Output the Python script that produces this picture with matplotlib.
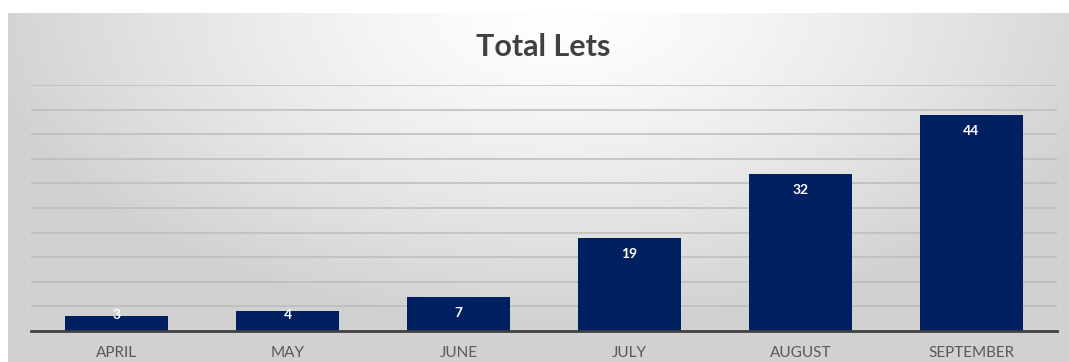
import numpy as np
import matplotlib
matplotlib.use("Agg")
import matplotlib.pyplot as plt

months = ["APRIL", "MAY", "JUNE", "JULY", "AUGUST", "SEPTEMBER"]
lets = [3, 4, 7, 19, 32, 44]

plt.rcParams['font.family'] = ['Lato', 'DejaVu Sans']

W, H = 1069, 362
fig = plt.figure(figsize=(W / 100, H / 100), dpi=100)
fig.patch.set_facecolor("white")

# grey backdrop, lightest at the top middle
bg = fig.add_axes([8 / W, 0, 1 - 8 / W, (H - 13) / H])
bg.set_axis_off()
yy, xx = np.mgrid[0:1:200j, 0:1:400j]
r = np.sqrt(((xx - 0.52) / 0.55) ** 2 + ((1 - yy) / 0.9) ** 2)
shade = 1.0 - 0.18 * np.clip(r, 0, 1) ** 1.3
bg.imshow(np.dstack([shade] * 3), aspect="auto", extent=[0, 1, 0, 1], origin="lower")

ax = fig.add_axes([31 / W, 31 / H, (1057 - 31) / W, (331 - 85) / H])
ax.patch.set_alpha(0)
x = np.arange(len(months))
bars = ax.bar(x, lets, width=0.6, color="#002060", zorder=3)

ax.set_xlim(-0.5, len(months) - 0.5)
ax.set_ylim(0, 50)
ax.set_yticks(np.arange(5, 51, 5))
ax.yaxis.grid(True, color="#bcbcbc", linewidth=1.1, zorder=0)
ax.tick_params(axis="y", left=False, labelleft=False)
ax.tick_params(axis="x", bottom=False, pad=7, labelsize=11, labelcolor="#595959")
ax.set_xticks(x)
ax.set_xticklabels(months)
for s in ["left", "right", "top"]:
    ax.spines[s].set_visible(False)
ax.spines["bottom"].set_color("#404040")
ax.spines["bottom"].set_linewidth(2)
ax.spines["bottom"].set_zorder(4)

for xi, v in zip(x, lets):
    ax.text(xi, max(v - 3.3, 3.3), str(v), ha="center", va="center",
            color="white", fontsize=10, fontweight="bold", zorder=5)

fig.text(543 / W, 1 - 47 / H, "Total Lets", ha="center", va="center",
         fontsize=22, fontweight="bold", color="#404040")

fig.savefig("out.png", dpi=100)
